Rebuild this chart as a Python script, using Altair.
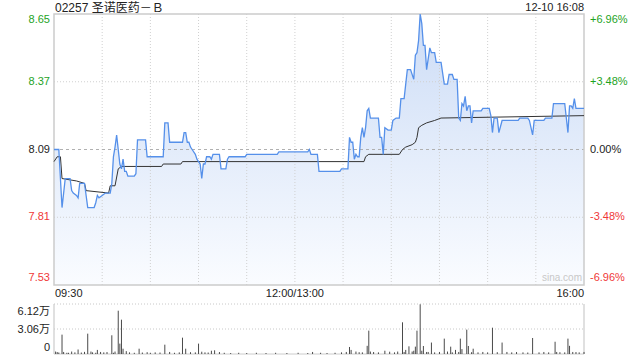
import altair as alt
import pandas as pd

# ---------------- data ----------------
title_text = "02257 圣诺医药－Ｂ"
stamp_text = "12-10 16:08"
watermark = "sina.com"
prev_close = 8.09

price_minutes = [0, 3, 5, 7, 10, 11, 12, 14, 15, 16, 19, 20, 21, 25, 26, 27, 28, 30, 32, 35,
                 36, 37, 38, 39, 40, 41, 42, 43, 44, 45, 46, 50, 51, 52, 57, 58, 68, 69, 71, 72,
                 80, 81, 82, 83, 84, 85, 86, 88, 89, 90, 91, 92, 93, 94, 95, 97, 98, 99, 103, 104,
                 107, 108, 109, 119, 120, 139, 140, 158, 159, 160, 164, 165, 178, 179, 183, 184, 185, 186, 187, 188,
                 189, 190, 191, 192, 193, 194, 195, 196, 197, 202, 203, 204, 205, 206, 208, 210, 211, 213, 215, 216,
                 218, 219, 220, 222, 224, 225, 226, 227, 228, 229, 230, 231, 232, 234, 235, 237, 238, 241, 243, 245,
                 246, 248, 249, 251, 252, 253, 254, 255, 256, 257, 258, 259, 260, 261, 266, 267, 271, 272, 273, 274,
                 276, 277, 279, 289, 290, 295, 296, 298, 299, 305, 306, 310, 311, 315, 318, 319, 320, 321, 322, 323,
                 324, 325, 330]
price_values = [8.09, 8.09, 7.85, 7.97, 7.97, 7.92, 7.91, 7.90, 7.89, 7.95, 7.95, 7.90, 7.85, 7.85, 7.87, 7.90, 7.89, 7.90, 7.91, 7.91,
                7.95, 8.06, 8.10, 8.15, 8.09, 8.03, 8.01, 8.05, 8.00, 8.00, 7.98, 7.98, 7.99, 8.13, 8.13, 8.06, 8.06, 8.20, 8.20, 8.12,
                8.12, 8.16, 8.16, 8.12, 8.12, 8.10, 8.09, 8.07, 8.05, 8.04, 8.03, 7.97, 8.03, 8.03, 8.06, 8.06, 8.05, 8.07, 8.07, 8.01,
                8.01, 8.05, 8.06, 8.06, 8.07, 8.07, 8.08, 8.08, 8.09, 8.07, 8.07, 8.00, 8.00, 8.01, 8.01, 8.14, 8.12, 8.12, 8.05, 8.07,
                8.06, 8.06, 8.14, 8.18, 8.14, 8.18, 8.25, 8.26, 8.22, 8.22, 8.14, 8.14, 8.07, 8.18, 8.17, 8.17, 8.21, 8.22, 8.22, 8.30,
                8.30, 8.36, 8.42, 8.42, 8.38, 8.48, 8.49, 8.54, 8.65, 8.61, 8.52, 8.52, 8.42, 8.51, 8.49, 8.49, 8.45, 8.45, 8.36, 8.36,
                8.40, 8.40, 8.38, 8.38, 8.22, 8.21, 8.28, 8.27, 8.31, 8.25, 8.27, 8.27, 8.20, 8.25, 8.25, 8.26, 8.26, 8.23, 8.16, 8.22,
                8.22, 8.16, 8.21, 8.21, 8.22, 8.22, 8.21, 8.15, 8.21, 8.21, 8.22, 8.22, 8.28, 8.28, 8.28, 8.22, 8.16, 8.27, 8.27, 8.26,
                8.30, 8.26, 8.26]

avg_minutes = [0, 2, 4, 5, 14, 19, 20, 34, 35, 38, 40, 42, 67, 68, 79, 80, 193, 194, 196, 215,
               217, 219, 223, 225, 226, 227, 229, 232, 237, 241, 330]
avg_values = [8.04, 8.06, 8.06, 7.97, 7.96, 7.95, 7.92, 7.91, 7.94, 7.94, 8.01, 8.02, 8.02, 8.03, 8.03, 8.04, 8.04, 8.06, 8.07, 8.07,
              8.09, 8.10, 8.11, 8.12, 8.14, 8.18, 8.19, 8.20, 8.21, 8.22, 8.23]

vol_minutes = [1, 2, 3, 5, 6, 8, 9, 11, 13, 15, 17, 19, 21, 23, 24, 26, 27, 29, 31, 33,
               36, 37, 38, 40, 41, 42, 43, 45, 47, 50, 53, 55, 58, 60, 63, 66, 69, 72, 75, 78,
               80, 82, 85, 88, 90, 92, 94, 96, 98, 100, 103, 106, 110, 115, 120, 126, 132, 138, 145, 152,
               158, 161, 166, 170, 175, 179, 182, 184, 185, 188, 190, 192, 195, 196, 197, 199, 202, 206, 209, 212,
               214, 217, 218, 219, 221, 223, 224, 225, 226, 228, 229, 230, 232, 233, 235, 237, 240, 243, 245, 247,
               248, 250, 252, 253, 254, 257, 258, 260, 261, 264, 267, 270, 273, 276, 279, 282, 285, 288, 292, 295,
               298, 302, 305, 308, 312, 313, 315, 318, 320, 321, 323, 325, 327, 330]
vol_values = [3000, 2400, 1800, 23700, 2500, 1500, 1500, 3000, 2000, 5500, 1800, 2600, 24900, 3000, 2000, 1500, 5000, 2500, 2000, 2400,
              22900, 1500, 3000, 53000, 12700, 42000, 6500, 3500, 2000, 1500, 6500, 1800, 2200, 1500, 2000, 1800, 11400, 2500, 1500, 2000,
              20000, 6500, 2200, 2000, 12700, 2800, 2000, 1800, 4000, 4500, 2400, 1500, 1200, 1500, 1200, 1500, 1200, 1500, 1200, 1500,
              1200, 2500, 1500, 1200, 1500, 2000, 2500, 8600, 5000, 3000, 2200, 2000, 10000, 28600, 3000, 2400, 2000, 4000, 2800, 2000,
              3000, 38800, 2500, 5000, 9400, 3000, 4000, 9000, 28600, 60800, 4000, 9800, 2500, 2500, 14000, 2000, 2500, 18800, 3000, 9000,
              2000, 5000, 2500, 18800, 6000, 29800, 9800, 2200, 6500, 2000, 2500, 2000, 32200, 2200, 14000, 2500, 2000, 2400, 2000, 1800,
              19600, 2000, 2500, 2000, 15000, 2500, 2200, 2000, 18800, 10000, 2500, 2400, 2000, 2500]

price_ticks = [8.65, 8.37, 8.09, 7.81, 7.53]
pct_labels = ["+6.96%", "+3.48%", "0.00%", "-3.48%", "-6.96%"]
grid_minutes = [30, 60, 90, 120, 150, 180, 210, 240, 270, 300]
time_ticks = [0, 150, 330]
time_labels = ["09:30", "12:00/13:00", "16:00"]
vol_ticks = [61200, 30600, 0]
vol_labels = ["6.12万", "3.06万", "0"]

# ---------------- layout ----------------
W = 530
PH = 271
VT = 290
H = 340
FONT = "Liberation Sans, Arial, Noto Sans CJK SC"
GREEN = "#1ea31e"
RED = "#f03838"
DARK = "#222222"

xs = alt.Scale(domain=[0, 330], range=[0, W], nice=False, zero=False)
ps = alt.Scale(domain=[price_ticks[-1], price_ticks[0]], range=[PH, 0], nice=False, zero=False)
vs = alt.Scale(domain=[0, vol_ticks[0]], range=[H, VT], nice=False, zero=False)

df_price = pd.DataFrame({"minute": price_minutes, "price": price_values})
df_avg = pd.DataFrame({"minute": avg_minutes, "price": avg_values})
df_vol = pd.DataFrame({"minute": vol_minutes, "vol": vol_values})
df_grid = pd.DataFrame({"minute": grid_minutes})
one = pd.DataFrame({"a": [0]})


def clr(p):
    if p > prev_close + 0.001:
        return GREEN
    if p < prev_close - 0.001:
        return RED
    return DARK


df_ticks = pd.DataFrame({
    "price": price_ticks,
    "label": [f"{p:.2f}" for p in price_ticks],
    "pct": pct_labels,
    "clr": [clr(p) for p in price_ticks],
})
df_time = pd.DataFrame({"minute": time_ticks, "label": time_labels})
df_vt = pd.DataFrame({"vol": vol_ticks, "label": vol_labels})

X = lambda: alt.X("minute:Q", scale=xs, axis=None)
YP = lambda: alt.Y("price:Q", scale=ps, axis=None)

# grid & frames
vgrid = alt.Chart(df_grid).mark_rule(color="#d0d0d0", strokeDash=[1, 2], strokeWidth=1).encode(
    x=X(), y=alt.value(0), y2=alt.value(PH))
hgrid = alt.Chart(df_ticks.iloc[[1, 3]]).mark_rule(color="#d0d0d0", strokeDash=[1, 2], strokeWidth=1).encode(
    y=YP(), x=alt.value(0), x2=alt.value(W))
base_line = alt.Chart(df_ticks.iloc[[2]]).mark_rule(color="#b0b0b0", strokeDash=[3, 3], strokeWidth=1).encode(
    y=YP(), x=alt.value(0), x2=alt.value(W))
frame = alt.Chart(one).mark_rect(fill="transparent", stroke="#cccccc", strokeWidth=1.5).encode(
    x=alt.value(0), x2=alt.value(W), y=alt.value(0), y2=alt.value(PH))

# price area and lines
area = alt.Chart(df_price).mark_area(
    color=alt.Gradient(gradient="linear",
                       stops=[alt.GradientStop(color="#ccdcf6", offset=0),
                              alt.GradientStop(color="#fafcff", offset=1)],
                       x1=1, x2=1, y1=0, y2=1)
).encode(x=X(), y=YP(), y2=alt.datum(price_ticks[-1]))
pline = alt.Chart(df_price).mark_line(color="#5590ea", strokeWidth=1.3).encode(x=X(), y=YP())
aline = alt.Chart(df_avg).mark_line(color="#333333", strokeWidth=1).encode(x=X(), y=YP())


def left_lab(rows, dy):
    return alt.Chart(df_ticks.iloc[rows]).mark_text(align="right", baseline="middle", dx=-4, dy=dy,
                                                     font=FONT, fontSize=11).encode(
        x=alt.value(0), y=YP(), text="label:N", color=alt.Color("clr:N", scale=None))


def right_lab(rows, dy):
    return alt.Chart(df_ticks.iloc[rows]).mark_text(align="left", baseline="middle", dx=6, dy=dy,
                                                     font=FONT, fontSize=11).encode(
        x=alt.value(W), y=YP(), text="pct:N", color=alt.Color("clr:N", scale=None))


labs = [left_lab([0], 6), left_lab([1, 2, 3], 0), left_lab([4], -7),
        right_lab([0], 6), right_lab([1, 2, 3], 0), right_lab([4], -7)]

tl = [
    alt.Chart(df_time.iloc[[0]]).mark_text(align="left", baseline="middle", font=FONT, fontSize=11, color=DARK, dx=1)
    .encode(x=X(), y=alt.value(PH + 9), text="label:N"),
    alt.Chart(df_time.iloc[[1]]).mark_text(align="center", baseline="middle", font=FONT, fontSize=11, color=DARK)
    .encode(x=X(), y=alt.value(PH + 9), text="label:N"),
    alt.Chart(df_time.iloc[[2]]).mark_text(align="right", baseline="middle", font=FONT, fontSize=11, color=DARK)
    .encode(x=X(), y=alt.value(PH + 9), text="label:N"),
]

title = alt.Chart(one).mark_text(align="left", baseline="middle", font=FONT, fontSize=12, color=DARK).encode(
    x=alt.value(1), y=alt.value(-6), text=alt.value(title_text))
stamp = alt.Chart(one).mark_text(align="right", baseline="middle", font=FONT, fontSize=11, color=DARK).encode(
    x=alt.value(W), y=alt.value(-6), text=alt.value(stamp_text))
wm = alt.Chart(one).mark_text(align="right", baseline="middle", font=FONT, fontSize=10, color="#c8c8c8").encode(
    x=alt.value(W - 2), y=alt.value(PH - 7), text=alt.value(watermark))

YV = lambda: alt.Y("vol:Q", scale=vs, axis=None)
vgrid2 = alt.Chart(df_vt.iloc[[0, 1]]).mark_rule(color="#c8c8c8", strokeDash=[1, 2], strokeWidth=1).encode(
    y=YV(), x=alt.value(0), x2=alt.value(W))
vbase = alt.Chart(df_vt.iloc[[2]]).mark_rule(color="#cccccc", strokeWidth=1).encode(
    y=YV(), x=alt.value(0), x2=alt.value(W))
vleft = alt.Chart(one).mark_rule(color="#cccccc", strokeWidth=1.2).encode(
    x=alt.value(0), y=alt.value(VT), y2=alt.value(H))
vright = alt.Chart(one).mark_rule(color="#cccccc", strokeWidth=1.2).encode(
    x=alt.value(W), y=alt.value(VT), y2=alt.value(H))
bars = alt.Chart(df_vol).mark_rule(color="#4a4a4a", strokeWidth=1).encode(
    x=X(), y=YV(), y2=alt.datum(0))


def vlab(rows, dy):
    return alt.Chart(df_vt.iloc[rows]).mark_text(align="right", baseline="middle", dx=-4, dy=dy,
                                                  font=FONT, fontSize=11, color=DARK).encode(
        x=alt.value(0), y=YV(), text="label:N")


vlabs = [vlab([0], 8), vlab([1], 1), vlab([2], -6)]

chart = alt.layer(
    area, vgrid, hgrid, base_line, frame, aline, pline,
    *labs, *tl, title, stamp, wm,
    vgrid2, vbase, vleft, vright, bars, *vlabs,
).resolve_scale(y="independent").properties(
    width=W, height=H,
    padding={"left": 54, "top": 14, "right": 56, "bottom": 6},
    autosize=alt.AutoSizeParams(type="none"),
).configure_view(strokeWidth=0)

chart.save("out.html", embed_options={"renderer": "svg", "actions": False})
